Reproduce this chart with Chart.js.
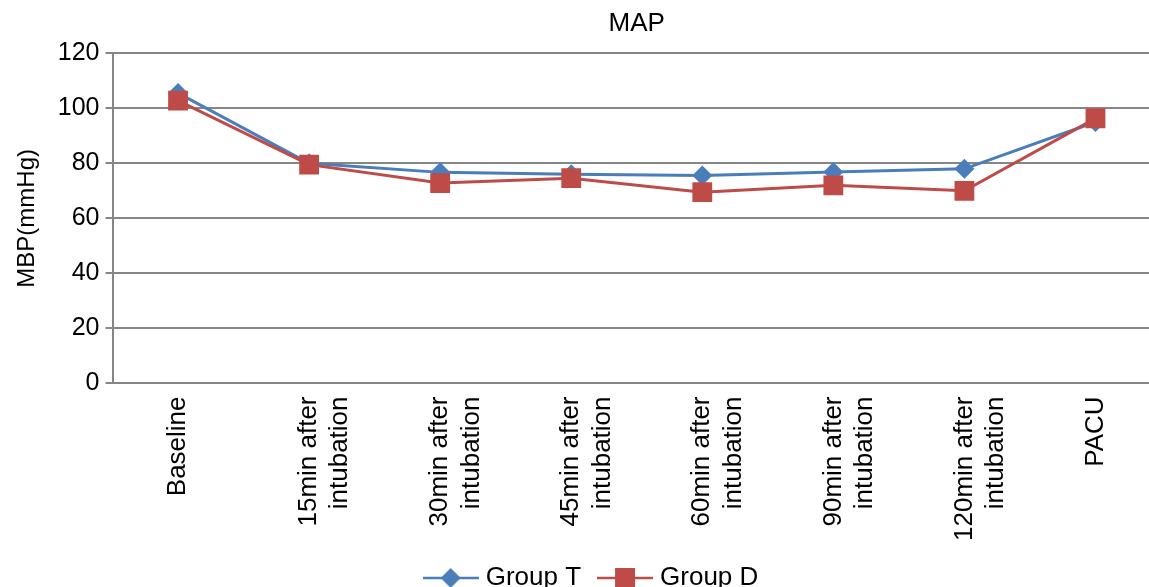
<!DOCTYPE html>
<html>
<head>
<meta charset="utf-8">
<script src="https://cdn.jsdelivr.net/npm/chart.js@4"></script>
<style>
  html, body { margin: 0; padding: 0; background: #fff; overflow: hidden; }
  #wrap { width: 1175px; height: 587px; }
</style>
</head>
<body>
<div id="wrap"><canvas id="map"></canvas></div>
<script>
var categories = ['Baseline', ['15min after', 'intubation'], ['30min after', 'intubation'], ['45min after', 'intubation'],
  ['60min after', 'intubation'], ['90min after', 'intubation'], ['120min after', 'intubation'], 'PACU']
var groupT = [105.5, 80, 76.7, 76, 75.6, 76.8, 78, 95]
var groupD = [102.8, 79.5, 72.8, 74.6, 69.5, 72, 70, 96.3]
var yTicks = [0, 20, 40, 60, 80, 100, 120]

var blue = '#4A7EBB'
var red = '#BE4B48'
var font = 'Liberation Sans, Arial, sans-serif'

function legendIcon(color, shape){
  var c = document.createElement('canvas')
  c.width = 56; c.height = 24
  var g = c.getContext('2d')
  g.strokeStyle = color
  g.lineWidth = 2.5
  g.beginPath(); g.moveTo(0, 12); g.lineTo(56, 12); g.stroke()
  g.fillStyle = color
  g.beginPath()
  if (shape == 'diamond') {
    g.moveTo(28, 2); g.lineTo(38, 12); g.lineTo(28, 22); g.lineTo(18, 12); g.closePath()
  } else {
    g.rect(18, 2, 20, 20)
  }
  g.fill()
  return c
}
var icons = [legendIcon(blue, 'diamond'), legendIcon(red, 'square')]

var ctx = document.getElementById('map')
var chart = new Chart(ctx, {
  type: 'line',
  data: {
    labels: categories,
    datasets: [{
      label: 'Group T',
      data: groupT,
      borderColor: blue,
      backgroundColor: blue,
      borderWidth: 3,
      pointStyle: 'rectRot',
      pointRadius: 10,
      pointBorderWidth: 0,
      order: 1
    }, {
      label: 'Group D',
      data: groupD,
      borderColor: red,
      backgroundColor: red,
      borderWidth: 3,
      pointStyle: 'rect',
      pointRadius: 14,
      pointBorderWidth: 0,
      order: 0
    }]
  },
  options: {
    responsive: true,
    maintainAspectRatio: false,
    animation: false,
    layout: { padding: { left: 13, right: 1, top: 0, bottom: -14 } },
    plugins: {
      tooltip: { enabled: false },
      title: {
        display: true,
        text: 'MAP',
        fullSize: false,
        color: '#000',
        font: { family: font, size: 26, weight: 'normal' },
        padding: { top: 8, bottom: 14 }
      },
      legend: {
        position: 'bottom',
        labels: {
          color: '#000',
          font: { family: font, size: 26 },
          usePointStyle: true,
          pointStyleWidth: 44,
          padding: 22,
          sort: function(a, b){ return a.datasetIndex - b.datasetIndex },
          generateLabels: function(chart){
            var items = Chart.defaults.plugins.legend.labels.generateLabels(chart)
            items.forEach(function(it){ it.pointStyle = icons[it.datasetIndex] })
            return items
          }
        }
      }
    },
    scales: {
      x: {
        offset: true,
        grid: { display: false, drawTicks: false },
        border: { color: '#868686', width: 2 },
        afterFit: function(axis){ axis.height -= 11 },
        ticks: {
          color: '#000',
          font: { family: font, size: 26 },
          minRotation: 90,
          maxRotation: 90,
          autoSkip: false,
          padding: 13
        }
      },
      y: {
        min: 0,
        max: 120,
        afterBuildTicks: function(axis){ axis.ticks = yTicks.map(function(v){ return { value: v } }) },
        grid: { color: '#868686', lineWidth: 2, tickLength: 7 },
        border: { color: '#868686', width: 2 },
        ticks: {
          color: '#000',
          font: { family: font, size: 25 },
          padding: 6
        },
        title: {
          display: true,
          text: 'MBP(mmHg)',
          color: '#000',
          font: { family: font, size: 24 },
          padding: { top: 0, bottom: 10 }
        }
      }
    }
  }
})
</script>
</body>
</html>
